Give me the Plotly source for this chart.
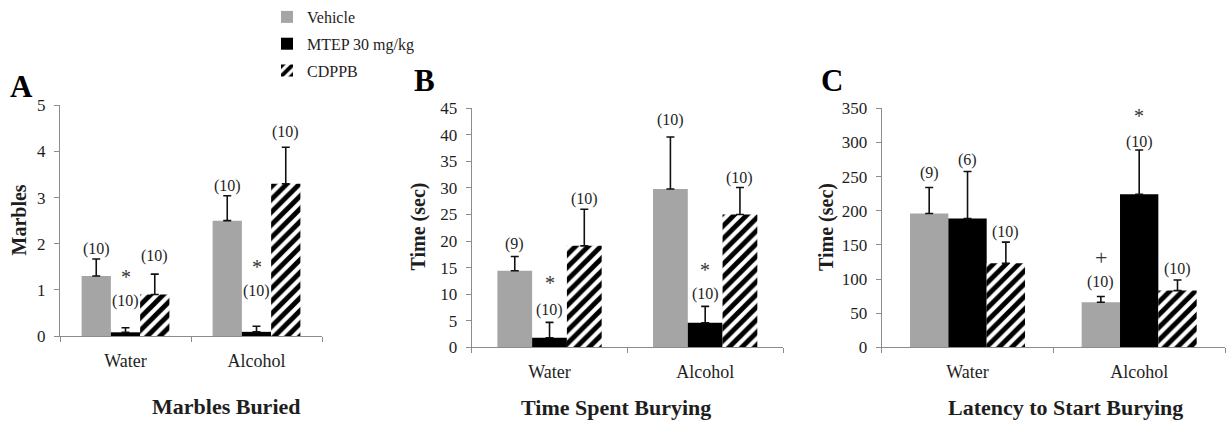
import plotly.graph_objects as go

# ---------------- data ----------------
categories = ["Water", "Alcohol"]
series_names = ["Vehicle", "MTEP 30 mg/kg", "CDPPB"]

# Panel A: Marbles buried (mean, SEM)
a_vehicle = [1.30, 2.50]
a_vehicle_sem = [0.37, 0.54]
a_mtep = [0.08, 0.09]
a_mtep_sem = [0.10, 0.12]
a_cdppb = [0.90, 3.30]
a_cdppb_sem = [0.44, 0.79]

# Panel B: Time spent burying (sec)
b_vehicle = [14.4, 29.8]
b_vehicle_sem = [2.7, 9.8]
b_mtep = [1.8, 4.6]
b_mtep_sem = [2.9, 3.1]
b_cdppb = [19.1, 25.0]
b_cdppb_sem = [6.9, 5.1]

# Panel C: Latency to start burying (sec)
c_vehicle = [196.0, 66.0]
c_vehicle_sem = [38.0, 8.3]
c_mtep = [188.5, 224.0]
c_mtep_sem = [69.0, 65.0]
c_cdppb = [123.0, 83.0]
c_cdppb_sem = [31.0, 15.6]

# group sizes shown above the bars, per panel [series][category]
a_n = [["(10)", "(10)"], ["(10)", "(10)"], ["(10)", "(10)"]]
b_n = [["(9)", "(10)"], ["(10)", "(10)"], ["(10)", "(10)"]]
c_n = [["(9)", "(10)"], ["(6)", "(10)"], ["(10)", "(10)"]]

# significance marks: (panel, series index, category index, symbol)
sig_marks = [("A", 1, 0, "*"), ("A", 1, 1, "*"),
             ("B", 1, 0, "*"), ("B", 1, 1, "*"),
             ("C", 1, 1, "*"), ("C", 0, 1, "+")]

# --------------- layout helpers (label heights in data units) ---------------
n_label_y = {
    "A": [[1.88, 3.26], [0.75, 0.97], [1.74, 4.42]],
    "B": [[19.4, 42.8], [7.0, 10.0], [27.9, 31.9]],
    "C": [[254.9, 95.0], [274.4, 301.0], [169.4, 114.7]],
}
sig_label_y = {("A", 1, 0): 1.37, ("A", 1, 1): 1.59,
               ("B", 1, 0): 12.8, ("B", 1, 1): 15.4,
               ("C", 1, 1): 345.0, ("C", 0, 1): 131.0}

W, H = 1227, 426
FONT = "Liberation Serif, Times New Roman, DejaVu Serif, serif"
TXT = "#1e1e1e"
AXC = "#8c8c8c"

panels = {
    "A": dict(means=[a_vehicle, a_mtep, a_cdppb], sems=[a_vehicle_sem, a_mtep_sem, a_cdppb_sem],
              n=a_n, ymax=5, dtick=1, ax="", xpx=(60, 322), ypx=(336, 105.3),
              ytitle="Marbles", title="Marbles Buried", letter="A"),
    "B": dict(means=[b_vehicle, b_mtep, b_cdppb], sems=[b_vehicle_sem, b_mtep_sem, b_cdppb_sem],
              n=b_n, ymax=45, dtick=5, ax="2", xpx=(471.7, 783), ypx=(347.3, 108.3),
              ytitle="Time (sec)", title="Time Spent Burying", letter="B"),
    "C": dict(means=[c_vehicle, c_mtep, c_cdppb], sems=[c_vehicle_sem, c_mtep_sem, c_cdppb_sem],
              n=c_n, ymax=350, dtick=50, ax="3", xpx=(881.7, 1225), ypx=(347.3, 108.3),
              ytitle="Time (sec)", title="Latency to Start Burying", letter="C"),
}

colors = ["#a5a5a5", "#000000", "#ffffff"]
BARGAP = 0.33
bw = (1 - BARGAP) / 3

fig = go.Figure()
layout = dict(width=W, height=H, margin=dict(l=0, r=0, t=0, b=0, autoexpand=False),
              paper_bgcolor="white", plot_bgcolor="white",
              barmode="group", bargap=BARGAP, bargroupgap=0,
              font=dict(family=FONT, size=16, color=TXT),
              showlegend=True,
              legend=dict(x=267 / W, y=1.0, xanchor="left", yanchor="top",
                          traceorder="grouped", tracegroupgap=3,
                          font=dict(family=FONT, size=16, color=TXT),
                          bgcolor="rgba(0,0,0,0)"))
annotations = []
xpos = list(range(len(categories)))

for key, p in panels.items():
    ax = p["ax"]
    xa, ya = "x" + ax, "y" + ax
    for j in range(3):
        marker = dict(color=colors[j], line=dict(width=0))
        if j == 2:
            marker["pattern"] = dict(shape="/", fgcolor="#000000", bgcolor="#ffffff",
                                     fgopacity=1, size=9, solidity=0.55)
        zeros = [0] * len(categories)
        fig.add_trace(go.Bar(
            x=xpos, y=p["means"][j], name=series_names[j], marker=marker,
            xaxis=xa, yaxis=ya, legendgroup=series_names[j], showlegend=(key == "A"),
            error_y=dict(type="data", symmetric=False, array=p["sems"][j], arrayminus=zeros,
                         color="#111111", thickness=1.6, width=4),
        ))
        for i in xpos:
            annotations.append(dict(x=i + (j - 1) * bw, y=n_label_y[key][j][i], xref=xa, yref=ya,
                                    text=p["n"][j][i], showarrow=False,
                                    xanchor="center", yanchor="middle",
                                    font=dict(family=FONT, size=16, color=TXT)))
    x0, x1 = p["xpx"]
    yb, yt = p["ypx"]
    xdom = [x0 / W, x1 / W]
    ydom = [1 - yb / H, 1 - yt / H]
    layout["xaxis" + ax] = dict(domain=xdom, range=[-0.5, 1.5], anchor=ya, automargin=False,
                                tickmode="array", tickvals=xpos, ticktext=categories,
                                ticks="", showline=True, linecolor=AXC, linewidth=1,
                                showgrid=False, zeroline=False, fixedrange=True,
                                ticklabelstandoff=8,
                                tickfont=dict(family=FONT, size=18, color=TXT),
                                minor=dict(tickmode="array", tickvals=[-0.5, 0.5, 1.5],
                                           ticks="outside", ticklen=5, tickcolor=AXC,
                                           showgrid=False))
    layout["yaxis" + ax] = dict(domain=ydom, range=[0, p["ymax"]], dtick=p["dtick"], anchor=xa,
                                automargin=False,
                                ticks="outside", ticklen=5, tickcolor=AXC,
                                showline=True, linecolor=AXC, linewidth=1,
                                showgrid=False, zeroline=False, fixedrange=True,
                                ticklabelstandoff=5,
                                tickfont=dict(family=FONT, size=17, color=TXT))

# significance marks
for key, j, i, sym in sig_marks:
    ax = panels[key]["ax"]
    annotations.append(dict(x=i + (j - 1) * bw, y=sig_label_y[(key, j, i)],
                            xref="x" + ax, yref="y" + ax, text=sym, showarrow=False,
                            xanchor="center", yanchor="middle",
                            yshift=-4 if sym == "*" else 0,
                            font=dict(family=FONT, size=20 if sym == "*" else 22, color="#333333")))

# y-axis titles, panel titles, panel letters (paper pixels)
ytitle_px = {"A": (18.5, 220), "B": (417.5, 227), "C": (826, 227)}
title_px = {"A": (226.5, 406), "B": (615.5, 407), "C": (1065, 407)}
letter_px = {"A": (21, 87), "B": (424, 81), "C": (832, 80)}
for key, p in panels.items():
    x, y = ytitle_px[key]
    annotations.append(dict(x=x / W, y=1 - y / H, xref="paper", yref="paper", text="<b>%s</b>" % p["ytitle"],
                            textangle=-90, showarrow=False, xanchor="center", yanchor="middle",
                            font=dict(family=FONT, size=20, color=TXT)))
    x, y = title_px[key]
    annotations.append(dict(x=x / W, y=1 - y / H, xref="paper", yref="paper", text="<b>%s</b>" % p["title"],
                            showarrow=False, xanchor="center", yanchor="middle",
                            font=dict(family=FONT, size=22, color=TXT)))
    x, y = letter_px[key]
    annotations.append(dict(x=x / W, y=1 - y / H, xref="paper", yref="paper", text="<b>%s</b>" % p["letter"],
                            showarrow=False, xanchor="center", yanchor="middle",
                            font=dict(family=FONT, size=31, color="#000000")))

layout["annotations"] = annotations
fig.update_layout(**layout)
fig.write_html("out.html", config={"displayModeBar": False},
               post_script="document.body.style.margin='0';")
